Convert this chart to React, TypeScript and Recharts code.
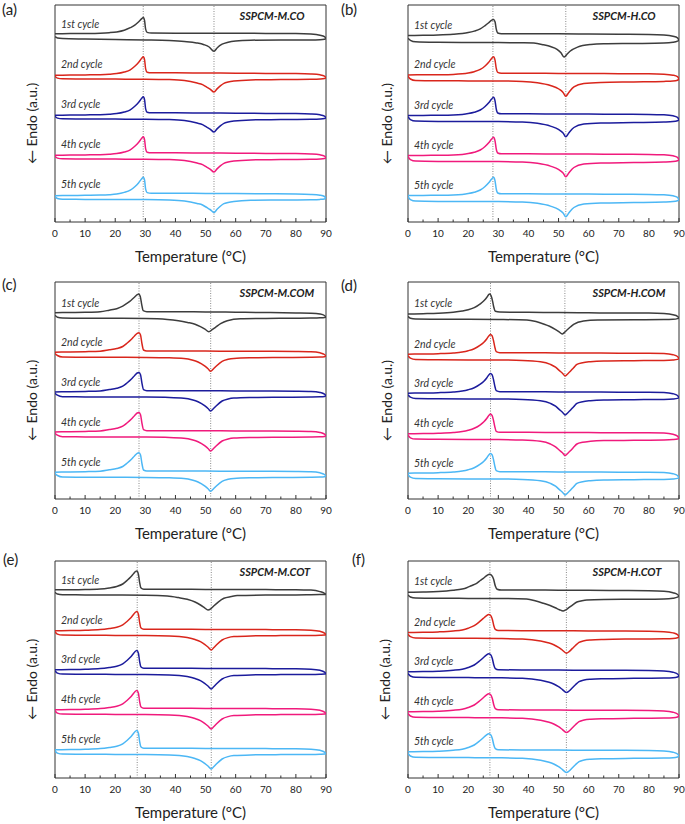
import { LineChart, Line, XAxis, YAxis, ReferenceLine, ReferenceArea, ReferenceDot } from 'recharts'

type Pt = [number, number]

// DSC curves, five heating/cooling cycles per sample, stacked with a vertical offset
const CYCLES = ['1st cycle', '2nd cycle', '3rd cycle', '4th cycle', '5th cycle']
const CYCLE_COLORS = ['#3d3d3d', '#d9261c', '#1c1c9c', '#f01a7c', '#4cb7f5']
const TEMP_TICKS = [0, 5, 10, 15, 20, 25, 30, 35, 40, 45, 50, 55, 60, 65, 70, 75, 80, 85, 90]
const SAMPLES = ['SSPCM-M.CO', 'SSPCM-H.CO', 'SSPCM-M.COM', 'SSPCM-H.COM', 'SSPCM-M.COT', 'SSPCM-H.COT']
const PANEL_LETTERS = ['(a)', '(b)', '(c)', '(d)', '(e)', '(f)']

// [temperature °C, heat flow a.u.] relative to each cycle's cooling baseline
const A_COOL_1: Pt[] = [[0,-0.5],[5,-0.4],[10,-0.3],[15,0],[18,0.5],[20.5,1.3],[23,3],[25,5.5],[26.5,8],[27.8,11.5],[28.8,14.5],[29.35,15.7],[29.75,12.5],[30.1,4],[30.6,0.8],[32,0.2],[40,0],[50,0],[60,0],[70,-0.2],[80,-0.3],[85,-0.8],[88,-2],[89.5,-3.5],[90,-5.5]]
const A_COOL_N: Pt[] = [[0,-2.5],[5,-2.3],[10,-2.1],[15,-1.9],[18,-1.5],[20.5,-0.8],[23,0.8],[25,3],[26.5,6.5],[27.8,10.5],[28.8,14.5],[29.35,16],[29.75,13],[30.1,4],[30.6,0.6],[32,0],[40,0],[50,-0.2],[60,-0.4],[70,-0.6],[80,-0.8],[85,-1.2],[88,-2],[89.5,-3.3],[90,-5]]
const A_HEAT_1: Pt[] = [[0,-3.5],[0.8,-4.8],[2.5,-5.3],[10,-5.8],[20,-6.3],[30,-6.7],[38,-7.3],[43,-8.3],[47,-9.7],[49.5,-11.5],[51.2,-13.8],[52.8,-18],[53.9,-14.5],[55.5,-11],[57.5,-9],[60,-7.8],[65,-7],[75,-6.7],[85,-6.7],[88,-6.5],[89.5,-6],[90,-5.5]]
const A_HEAT_N: Pt[] = [[0,-3.5],[0.8,-5.3],[2.5,-6],[10,-6.2],[20,-6.3],[30,-6.4],[38,-6.8],[43,-7.8],[47.2,-10.3],[49,-11.8],[50.5,-14.5],[51.5,-16.3],[52.8,-19.2],[53.9,-15.8],[55,-12.8],[56.1,-10.5],[57.5,-9.3],[59.4,-8.3],[65,-7.1],[75,-6.8],[85,-6.5],[88,-6.2],[89.5,-5.7],[90,-5]]
const A_BASE = [188.8, 149.2, 109.2, 69.2, 28.8]
const A_MARKS = [29.3, 52.8]

const B_COOL_1: Pt[] = [[0,-1.7],[5,-1.5],[10,-1.2],[15,-0.5],[18,0.3],[20,1.2],[22,2.7],[24,5],[25.5,8],[26.8,11],[27.7,13.5],[28.4,14.3],[28.9,12],[29.3,5],[29.8,0.8],[31,0.1],[40,0],[50,0],[60,-0.2],[70,-0.4],[80,-0.6],[85,-1.2],[88,-2.5],[89.5,-4],[90,-6.5]]
const B_COOL_N: Pt[] = [[0,-1.8],[5,-1.6],[10,-1.5],[15,-1.2],[18,-0.6],[20,0.2],[22,1.5],[24,3.8],[25.5,7],[26.8,11],[27.7,14.5],[28.4,16.5],[28.9,13],[29.3,5],[29.8,0.8],[31,0],[40,0],[50,-0.2],[60,-0.3],[70,-0.5],[80,-0.6],[85,-1],[88,-2],[89.5,-3.5],[90,-6]]
const B_HEAT_1: Pt[] = [[0,-4.5],[0.8,-6.5],[2.5,-8],[10,-8.5],[20,-8.7],[30,-8.8],[38,-9],[41.8,-9.3],[45,-11],[47.3,-12.7],[49.5,-15.5],[50.8,-19],[51.8,-23.3],[52.8,-20.5],[53.8,-17.5],[56.3,-13.3],[60.7,-10.7],[65,-10],[75,-9.7],[85,-9.3],[88,-8.5],[89.5,-7.3],[90,-6.5]]
const B_HEAT_N: Pt[] = [[0,-3],[0.8,-5.8],[2.5,-7.3],[10,-7.6],[20,-7.7],[30,-7.8],[38,-8.2],[43,-9.5],[47.3,-12.3],[50.1,-15.8],[51.5,-19.2],[52.4,-23],[53.4,-19.2],[55.1,-13.7],[58.4,-10.3],[64,-9.2],[75,-8.7],[85,-8.2],[88,-7.8],[89.5,-7],[90,-6]]
const B_BASE = [188.2, 148.8, 108.2, 68.2, 28.2]
const B_MARKS = [28.2, 52.4]

const C_COOL_1: Pt[] = [[0,-1],[5,-0.8],[10,-0.6],[15,0],[18,1.5],[20.5,3],[22.5,5.5],[24,8.5],[25.3,11.5],[26.4,14.5],[27.3,17],[27.8,17.7],[28.3,15.5],[28.8,7],[29.3,1],[30.5,0],[40,0],[50,-0.2],[60,-0.5],[70,-0.8],[80,-1.2],[85,-1.5],[88,-2.3],[89.5,-3.8],[90,-5.5]]
const C_COOL_N: Pt[] = [[0,-1.2],[5,-1],[10,-0.7],[15,-0.2],[18,1.2],[20.5,2.5],[22.5,4.5],[24,8],[25.3,11.5],[26.4,15],[27.3,17.7],[27.9,18.2],[28.4,16],[28.9,7],[29.4,1],[30.5,0],[40,0],[50,-0.1],[60,-0.2],[70,-0.3],[80,-0.5],[85,-0.8],[88,-1.8],[89.5,-3.5],[90,-5]]
const C_HEAT_1: Pt[] = [[0,-3.5],[0.8,-5.5],[2.5,-6.2],[10,-6.5],[20,-6.6],[30,-6.8],[37.3,-7.7],[41,-9],[44,-10.7],[46.5,-12.5],[48.3,-15],[49.8,-17.5],[51.1,-20],[52.2,-18],[53.3,-15.7],[55,-12],[57.2,-9],[61.6,-7],[70,-6.7],[80,-6.5],[85,-6.3],[88,-6],[89.5,-5.7],[90,-5.5]]
const C_HEAT_N: Pt[] = [[0,-2.5],[0.8,-4.5],[2.5,-6],[10,-6.2],[20,-6.3],[30,-6.4],[38,-6.7],[42.8,-7.5],[45.5,-9],[47.5,-11],[49.8,-15.2],[50.9,-18],[51.7,-20.3],[52.6,-18],[53.5,-15.3],[55.5,-10.3],[57.5,-8.3],[59.4,-7.4],[65,-6.8],[75,-6.5],[85,-6.3],[88,-6.1],[89.5,-5.7],[90,-5]]
const C_BASE = [187.3, 148, 108.3, 68.3, 28]
const C_MARKS = [27.9, 51.7]

const D_COOL_1: Pt[] = [[0,-1.7],[5,-1.4],[10,-1],[15,0],[18,1.2],[20,2.5],[22,4.7],[24,8.5],[25.2,11.5],[26.2,15],[26.7,17.3],[27.1,18.3],[27.6,16.5],[28.1,11],[28.5,5],[29,1],[30.5,0.2],[40,0],[50,-0.3],[60,-0.5],[70,-0.7],[80,-0.8],[85,-1.3],[88,-2.5],[89.5,-4],[90,-5.5]]
const D_COOL_N: Pt[] = [[0,-1.5],[5,-1.3],[10,-1],[15,-0.3],[18,0.7],[20,2],[22,4],[24,7.5],[25.2,10.5],[26.2,14],[26.9,17],[27.4,18.2],[27.9,17],[28.4,12],[28.8,6],[29.3,1],[30.5,0],[40,0],[50,-0.2],[60,-0.3],[70,-0.5],[80,-0.5],[85,-0.8],[88,-2],[89.5,-3.8],[90,-6]]
const D_HEAT_1: Pt[] = [[0,-4],[0.8,-6],[2.5,-6.8],[10,-7],[20,-7],[30,-7.2],[39.5,-7.7],[42.5,-9.3],[45,-11.7],[47,-14],[48.9,-17],[50.2,-19.5],[51.2,-21.7],[52,-20],[52.8,-17.7],[54,-14.5],[55,-12],[58.3,-8.7],[63,-7.8],[75,-7.5],[85,-7.3],[88,-7],[89.5,-6.3],[90,-5.5]]
const D_HEAT_N: Pt[] = [[0,-3],[0.8,-5.5],[2.5,-6.8],[10,-7],[20,-7.2],[30,-7.3],[38,-7.7],[44,-9],[47.3,-11.7],[49,-14.5],[50.2,-17.7],[51.3,-20.5],[52.2,-23.2],[53.1,-21],[54,-18.3],[55,-15],[56.1,-11.7],[58,-10],[60.6,-9],[65,-8.3],[75,-8],[85,-7.7],[88,-7.3],[89.5,-6.7],[90,-6]]
const D_BASE = [186.7, 146.3, 107.3, 66.7, 27.3]
const D_MARKS = [27.4, 52.1]

const E_COOL_1: Pt[] = [[0,-0.5],[5,-0.4],[10,-0.3],[15,0.2],[18,1.3],[20.5,2.8],[22.5,5.3],[24,9],[25.2,12.5],[26.2,16],[26.8,18],[27.2,18.3],[27.7,15],[28.1,7],[28.5,1.5],[29.5,0],[40,0],[50,-0.1],[60,-0.2],[70,-0.3],[80,-0.4],[85,-0.8],[88,-2.3],[89.5,-4],[90,-5]]
const E_COOL_N: Pt[] = [[0,-1.5],[5,-1.3],[10,-1],[15,-0.3],[18,0.8],[20.5,2],[22.5,4.5],[24,8],[25.2,11.5],[26.2,15.3],[26.8,17.3],[27.2,17.8],[27.7,15],[28.1,7],[28.5,1.5],[29.5,0],[40,0],[50,-0.1],[60,-0.2],[70,-0.3],[80,-0.5],[85,-0.9],[88,-2],[89.5,-3.8],[90,-5.5]]
const E_HEAT_1: Pt[] = [[0,-3],[0.8,-4.8],[2.5,-5.4],[10,-5.6],[20,-5.7],[30,-5.9],[37.3,-6.7],[41,-8.3],[43.9,-10],[46.5,-12.7],[48.3,-15.7],[49.7,-18.5],[50.8,-20.7],[51.8,-19.3],[52.7,-16.7],[54.3,-12.5],[56.1,-9],[58.5,-7.3],[60.5,-6.3],[70,-5.8],[80,-5.7],[85,-5.5],[88,-5.3],[89.5,-5.2],[90,-5]]
const E_HEAT_N: Pt[] = [[0,-2.5],[0.8,-4.8],[2.5,-5.8],[10,-6],[20,-6.1],[30,-6.2],[38,-6.6],[43.9,-8.3],[46.5,-10.2],[48.3,-12.3],[49.7,-15],[50.8,-17.7],[51.9,-20.7],[52.7,-18.5],[53.5,-16],[55.5,-10.7],[57.5,-8.3],[59.4,-7.3],[65,-6.6],[75,-6.3],[85,-6.2],[88,-6],[89.5,-5.8],[90,-5.5]]
const E_BASE = [188.7, 148.7, 109.7, 69.7, 29.7]
const E_MARKS = [27.3, 51.9]

const F_COOL_1: Pt[] = [[0,-2.3],[5,-2],[10,-1.5],[15,-0.3],[18,1],[19.5,2.3],[21,4.3],[22.8,6.7],[24,9.5],[25,11.7],[26.2,14.5],[27.1,15.7],[27.8,14.5],[28.4,11],[29,4],[29.6,0.8],[31,0],[40,0],[50,-0.2],[60,-0.3],[70,-0.5],[80,-0.7],[85,-1.2],[88,-2.7],[89.5,-4.5],[90,-6]]
const F_COOL_N: Pt[] = [[0,-1.8],[5,-1.6],[10,-1.2],[15,-0.3],[18,0.8],[20,2.5],[22,5],[23.5,8.3],[25,12.3],[26,14.8],[26.8,16.3],[27.4,15.5],[28,11.5],[28.5,5],[29,1.3],[30,0.2],[40,0],[50,-0.1],[60,-0.2],[70,-0.3],[80,-0.5],[85,-1],[88,-2.2],[89.5,-4],[90,-6]]
const F_HEAT_1: Pt[] = [[0,-5],[0.8,-7],[2.5,-8],[10,-8.3],[20,-8.4],[30,-8.5],[39.4,-9],[42.5,-11],[45,-13.3],[47.2,-15.5],[48.9,-17.7],[50.3,-19.7],[51.5,-21],[52.4,-19.8],[53.4,-17.7],[54.7,-14.8],[56.1,-12],[57.8,-10.7],[59.4,-10],[65,-9.5],[75,-9.3],[85,-9],[88,-8.3],[89.5,-7.2],[90,-6]]
const F_HEAT_N: Pt[] = [[0,-3.5],[0.8,-6],[2.5,-7.3],[10,-7.5],[20,-7.6],[30,-7.8],[38,-8.3],[44,-10.3],[46.5,-12],[48.4,-14],[50,-16.7],[51.2,-19.3],[52.6,-22.5],[53.5,-21],[54.6,-17.7],[55.7,-14.5],[56.8,-11.7],[58.5,-10],[60.7,-9.2],[65,-8.7],[75,-8.3],[85,-8],[88,-7.7],[89.5,-7],[90,-6]]
const F_BASE = [188, 147.3, 108, 68, 28]
const F_MARKS = [27.2, 52.6]

const BOX_W = 271
const BOX_H = 217
const PAD = 2
const SIDE = 10
const AXIS_H = 30
const FONT = 'Lato, "Open Sans", sans-serif'
const INK = '#222'

const PANELS = [
  { cool1: A_COOL_1, coolN: A_COOL_N, heat1: A_HEAT_1, heatN: A_HEAT_N, base: A_BASE, marks: A_MARKS, left: 55, top: 5, letter: [2, 15], ylab: 37 },
  { cool1: B_COOL_1, coolN: B_COOL_N, heat1: B_HEAT_1, heatN: B_HEAT_N, base: B_BASE, marks: B_MARKS, left: 408, top: 5, letter: [341, 15], ylab: 392 },
  { cool1: C_COOL_1, coolN: C_COOL_N, heat1: C_HEAT_1, heatN: C_HEAT_N, base: C_BASE, marks: C_MARKS, left: 55, top: 282, letter: [2, 290], ylab: 37 },
  { cool1: D_COOL_1, coolN: D_COOL_N, heat1: D_HEAT_1, heatN: D_HEAT_N, base: D_BASE, marks: D_MARKS, left: 408, top: 282, letter: [341, 291], ylab: 392 },
  { cool1: E_COOL_1, coolN: E_COOL_N, heat1: E_HEAT_1, heatN: E_HEAT_N, base: E_BASE, marks: E_MARKS, left: 55, top: 561, letter: [3, 565], ylab: 37 },
  { cool1: F_COOL_1, coolN: F_COOL_N, heat1: F_HEAT_1, heatN: F_HEAT_N, base: F_BASE, marks: F_MARKS, left: 408, top: 561, letter: [352, 565], ylab: 390 },
]

// stack a curve on its cycle baseline
function stack(curve: Pt[], base: number) {
  return curve.map(([t, v]) => ({ t, v: base + v }))
}

function TempTick(props: any) {
  const { x, y, payload } = props
  const major = payload.value % 10 === 0
  return (
    <g>
      <line x1={x} x2={x} y1={y} y2={y - (major ? 4 : 2.5)} stroke="#333" strokeWidth={1} />
      {major && (
        <text x={x} y={y + 14.5} textAnchor="middle" fontSize={10} fontFamily={FONT} fill={INK}>
          {payload.value}
        </text>
      )}
    </g>
  )
}

function CycleLabel(props: any) {
  const { viewBox, text } = props
  return (
    <text x={viewBox.x} y={viewBox.y} fontSize={10.5} fontStyle="italic" fontFamily={FONT} fill="#333">
      {text}
    </text>
  )
}

function Panel({ p }: { p: (typeof PANELS)[number] }) {
  return (
    <div style={{ position: 'absolute', left: p.left - SIDE, top: p.top - PAD }}>
      <LineChart
        width={BOX_W + 2 * SIDE}
        height={BOX_H + PAD + AXIS_H}
        margin={{ top: PAD, right: SIDE, bottom: 0, left: SIDE }}
      >
        <XAxis
          type="number"
          dataKey="t"
          domain={[0, 90]}
          ticks={TEMP_TICKS}
          interval={0}
          allowDataOverflow
          axisLine={false}
          tickLine={false}
          tickSize={0}
          tickMargin={0}
          height={AXIS_H}
          tick={<TempTick />}
        />
        <YAxis hide type="number" domain={[0, BOX_H]} allowDataOverflow />
        {p.marks.map((m) => (
          <ReferenceLine key={m} x={m} stroke="#8a8a8a" strokeWidth={1} strokeDasharray="1 1.5" />
        ))}
        {CYCLES.map((c, i) => (
          <Line
            key={`heat-${c}`}
            data={stack(i === 0 ? p.heat1 : p.heatN, p.base[i])}
            dataKey="v"
            type="monotone"
            stroke={CYCLE_COLORS[i]}
            strokeWidth={1.5}
            dot={false}
            activeDot={false}
            isAnimationActive={false}
          />
        ))}
        {CYCLES.map((c, i) => (
          <Line
            key={`cool-${c}`}
            data={stack(i === 0 ? p.cool1 : p.coolN, p.base[i])}
            dataKey="v"
            type="monotone"
            stroke={CYCLE_COLORS[i]}
            strokeWidth={1.5}
            dot={false}
            activeDot={false}
            isAnimationActive={false}
          />
        ))}
        {CYCLES.map((c, i) => (
          <ReferenceDot
            key={`lab-${c}`}
            x={2}
            y={p.base[i] + 5}
            r={0}
            fill="none"
            stroke="none"
            label={<CycleLabel text={c} />}
          />
        ))}
        <ReferenceArea x1={0} x2={90} y1={0} y2={BOX_H} fill="none" stroke="#333" strokeWidth={1} fillOpacity={0} />
      </LineChart>
    </div>
  )
}

export default function App() {
  return (
    <div style={{ position: 'absolute', left: 0, top: 0, width: 685, height: 824, background: '#fff', overflow: 'hidden' }}>
      {PANELS.map((p, i) => (
        <Panel key={SAMPLES[i]} p={p} />
      ))}
      <svg width={685} height={824} style={{ position: 'absolute', left: 0, top: 0, pointerEvents: 'none' }}>
        {PANELS.map((p, i) => {
          const cy = p.top + BOX_H / 2 + 10
          return (
            <g key={SAMPLES[i]} fontFamily={FONT} fill={INK}>
              <text x={p.letter[0]} y={p.letter[1]} fontSize={15}>
                {PANEL_LETTERS[i]}
              </text>
              <text x={p.left + 184.5} y={p.top + 15} fontSize={11} fontWeight="bold" fontStyle="italic">
                {SAMPLES[i]}
              </text>
              <text x={p.left + BOX_W / 2} y={p.top + BOX_H + 40} fontSize={15} textAnchor="middle">
                Temperature (°C)
              </text>
              <text
                x={p.ylab}
                y={cy}
                fontSize={14}
                textAnchor="middle"
                transform={`rotate(-90 ${p.ylab} ${cy})`}
              >
                ← Endo (a.u.)
              </text>
            </g>
          )
        })}
      </svg>
    </div>
  )
}
